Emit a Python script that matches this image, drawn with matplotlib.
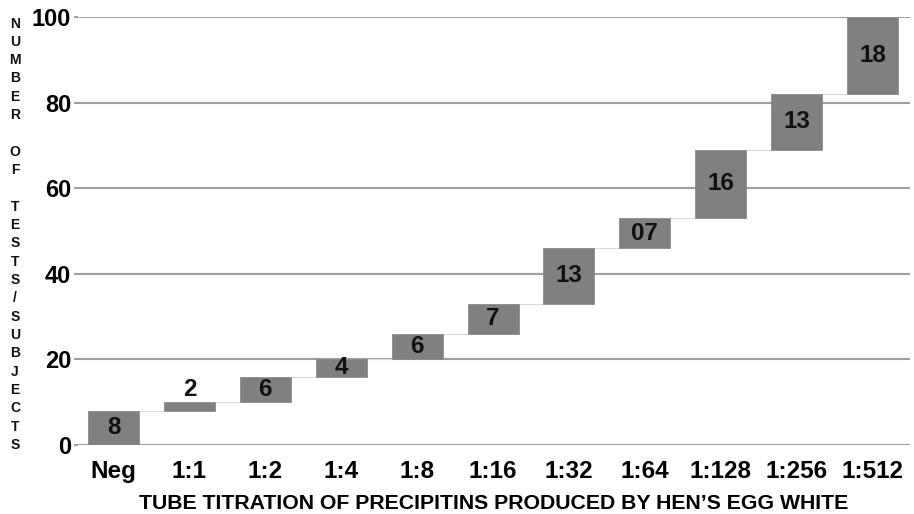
import matplotlib
matplotlib.use("Agg")
import matplotlib.pyplot as plt
import numpy as np

categories = ["Neg", "1:1", "1:2", "1:4", "1:8", "1:16", "1:32", "1:64", "1:128", "1:256", "1:512"]
increments = [8, 2, 6, 4, 6, 7, 13, 7, 16, 13, 18]
bar_labels = ["8", "2", "6", "4", "6", "7", "13", "07", "16", "13", "18"]
yticks = [0, 20, 40, 60, 80, 100]
ylabel_text = "NUMBER OF TESTS/SUBJECTS"
xlabel_text = "TUBE TITRATION OF PRECIPITINS PRODUCED BY HEN\u2019S EGG WHITE"

plt.rcParams['font.family'] = ['Liberation Sans', 'DejaVu Sans']

W, H = 914, 514
fig = plt.figure(figsize=(W / 100, H / 100), dpi=100)
ax = fig.add_axes([78 / W, (H - 445) / H, 832 / W, 428 / H])

x = np.arange(len(categories))
inc = np.array(increments, dtype=float)
ends = np.cumsum(inc)
starts = ends - inc
bw = 0.672

ax.bar(x, inc, bottom=starts, width=bw, color="#808080", edgecolor="#8c8c8c",
       linewidth=0.6, zorder=3)

# connectors
for i in range(len(x) - 1):
    ax.plot([x[i] + bw / 2, x[i + 1] - bw / 2], [ends[i], ends[i]],
            color="#dcdcdc", linewidth=0.8, zorder=2)

# labels
for i in range(len(x)):
    if inc[i] <= 2:
        ax.text(x[i], ends[i] + 0.3, bar_labels[i], ha="center", va="bottom",
                fontsize=17.5, fontweight="bold", color="#111111", zorder=4)
    else:
        ax.text(x[i], (starts[i] + ends[i]) / 2, bar_labels[i], ha="center",
                va="center", fontsize=17.5, fontweight="bold", color="#111111", zorder=4)

ax.set_xlim(-0.468, 10.494)
ax.set_ylim(0, 100)
ax.set_yticks(yticks)
ax.set_yticklabels([str(v) for v in yticks], fontsize=17, fontweight="bold")
ax.set_xticks(x)
ax.set_xticklabels(categories, fontsize=17.5, fontweight="bold")
ax.yaxis.grid(True, color="#a0a0a0", linewidth=1.5, zorder=1)
ax.set_axisbelow(True)
for s in ["top", "right", "left", "bottom"]:
    ax.spines[s].set_visible(False)
ax.tick_params(axis="y", length=3, width=1.5, color="#a0a0a0", pad=2)
ax.tick_params(axis="x", length=0, pad=11)
ax.set_xlabel(xlabel_text, fontsize=15.3, fontweight="bold", labelpad=8)

# vertical stacked y-label
letters = []
for word_i, word in enumerate(ylabel_text.split(" ")):
    if word_i > 0:
        letters.append("")
    letters.extend(list(word))
y0 = 23.5
step = (445 - 23.5) / (len(letters) - 1)
for k, ch in enumerate(letters):
    if ch:
        fig.text(15 / W, 1 - (y0 + k * step) / H, ch, ha="center", va="center",
                 fontsize=10, fontweight="bold", color="#111111")

fig.savefig("out.png", dpi=100)
